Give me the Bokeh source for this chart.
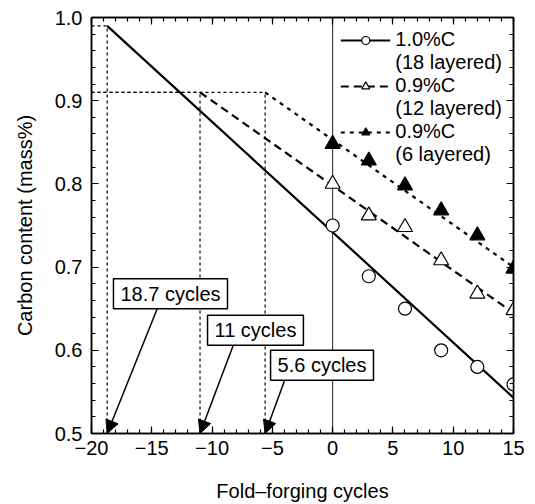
import numpy as np
from bokeh.plotting import figure
from bokeh.models import (Range1d, FixedTicker, LinearAxis, Legend, LegendItem,
                          Label, Arrow, NormalHead, Span, ColumnDataSource,
                          CustomLabelingPolicy)
from bokeh.embed import file_html
from bokeh.resources import INLINE

# ---------------- data ----------------
cycles = [0, 3, 6, 9, 12, 15]
c10_18 = [0.750, 0.689, 0.650, 0.600, 0.580, 0.559]   # 1.0%C (18 layered)
c09_12 = [0.800, 0.762, 0.748, 0.708, 0.668, 0.648]   # 0.9%C (12 layered)
c09_6 = [0.848, 0.828, 0.798, 0.768, 0.738, 0.698]    # 0.9%C (6 layered)

# fitted / extrapolated lines
fit10_x = [-18.7, 15]
fit10_y = [0.990, 0.543]
fit12_x = [-11.0, 15]
fit12_y = [0.910, 0.645]
fit6_x = [-5.6, 15]
fit6_y = [0.910, 0.700]

# extrapolated starting cycles and carbon levels
extrap_cycles = [-18.7, -11.0, -5.6]
extrap_levels = [0.99, 0.91, 0.91]
extrap_labels = ["18.7 cycles", "11 cycles", "5.6 cycles"]

series_labels = ["1.0%C", "(18 layered)", "0.9%C", "(12 layered)", "0.9%C", "(6 layered)"]

x_ticks = [-20, -15, -10, -5, 0, 5, 10, 15]
x_tick_labels = ["\u221220", "\u221215", "\u221210", "\u22125", "0", "5", "10", "15"]
y_ticks = [0.5, 0.6, 0.7, 0.8, 0.9, 1.0]
y_tick_labels = ["0.5", "0.6", "0.7", "0.8", "0.9", "1.0"]

x_label = "Fold\u2013forging cycles"
y_label = "Carbon content (mass%)"

# annotation layout (box centres and arrow tails)
box_x = [-13.45, -6.40, -0.88]
box_y = [0.668, 0.624, 0.582]
arrow_tail_x = [-14.55, -8.22, -4.0]
arrow_tail_y = [0.650, 0.607, 0.563]

FONT = "Liberation Sans"

p = figure(width=535, height=504, x_range=Range1d(-20, 15), y_range=Range1d(0.5, 1.0),
           output_backend="svg", toolbar_location=None,
           min_border_left=91, min_border_right=22, min_border_top=17, min_border_bottom=71)
p.background_fill_color = "white"
p.border_fill_color = "white"
p.xgrid.visible = False
p.ygrid.visible = False
p.outline_line_color = "black"
p.outline_line_width = 1.5
p.outline_line_alpha = 1.0

x_minor = list(np.arange(-20, 16, 1))
y_minor = [round(v, 2) for v in np.arange(0.5, 1.0001, 0.02)]


def style_axis(ax, ticks, minor, labels, show_labels=True):
    ax.ticker = FixedTicker(ticks=ticks, minor_ticks=minor)
    ax.major_tick_in = 7
    ax.major_tick_out = 0
    ax.minor_tick_in = 4
    ax.minor_tick_out = 0
    ax.axis_line_color = "black"
    ax.axis_line_width = 1.5
    ax.major_tick_line_color = "black"
    ax.minor_tick_line_color = "black"
    ax.major_tick_line_width = 1.2
    ax.minor_tick_line_width = 1.2
    if show_labels:
        ax.major_label_overrides = {t: l for t, l in zip(ticks, labels)}
        ax.major_label_text_font = FONT
        ax.major_label_text_font_size = "20px"
        ax.major_label_text_color = "black"
        ax.axis_label_text_font = FONT
        ax.axis_label_text_font_size = "20px"
        ax.axis_label_text_font_style = "normal"
        ax.axis_label_text_color = "black"
    else:
        ax.major_label_policy = CustomLabelingPolicy(
            code="for (const i of indices) { indices.unset(i) } ; return indices")
        ax.major_label_text_font_size = "1px"
        ax.major_label_standoff = 0


xa = p.xaxis[0]
ya = p.yaxis[0]
style_axis(xa, x_ticks, x_minor, x_tick_labels)
style_axis(ya, y_ticks, y_minor, y_tick_labels)
xa.axis_label = x_label
ya.axis_label = y_label
xa.major_label_standoff = 7
xa.axis_label_standoff = 22
ya.major_label_standoff = 9
ya.axis_label_standoff = 16

top_ax = LinearAxis()
style_axis(top_ax, x_ticks, x_minor, x_tick_labels, show_labels=False)
p.add_layout(top_ax, "above")
right_ax = LinearAxis()
style_axis(right_ax, y_ticks, y_minor, y_tick_labels, show_labels=False)
p.add_layout(right_ax, "right")

# vertical line at 0 cycles
p.add_layout(Span(location=0, dimension="height", line_color="#222222", line_width=1, level="underlay"))

# dotted guide lines
guides = ColumnDataSource(dict(
    x=extrap_cycles,
    y0=[0.5] * len(extrap_cycles),
    y=extrap_levels,
    xl=[-20] * len(extrap_cycles),
))
p.segment(x0="x", y0="y0", x1="x", y1="y", source=guides,
          line_color="black", line_width=1.2, line_dash="3 3")
p.segment(x0="xl", y0="y", x1="x", y1="y", source=guides,
          line_color="black", line_width=1.2, line_dash="3 3")

# fitted lines
r_fit10 = p.line(fit10_x, fit10_y, line_color="black", line_width=2.2)
r_fit12 = p.line(fit12_x, fit12_y, line_color="black", line_width=2.2, line_dash="8 5")
r_fit6 = p.line(fit6_x, fit6_y, line_color="black", line_width=2.2, line_dash="4 5")

# data points
r_p10 = p.scatter(cycles, c10_18, marker="circle", size=13, fill_color="white",
                  line_color="black", line_width=1.2)
r_p12 = p.scatter(cycles, c09_12, marker="triangle", size=15, fill_color="white",
                  line_color="black", line_width=1.2)
r_p6 = p.scatter(cycles, c09_6, marker="triangle", size=15, fill_color="black",
                 line_color="black", line_width=1.2)

dummy = p.scatter([], [], marker="circle", size=1, alpha=0)

legend = Legend(items=[
    LegendItem(label=series_labels[0], renderers=[r_fit10, r_p10]),
    LegendItem(label=series_labels[1], renderers=[dummy]),
    LegendItem(label=series_labels[2], renderers=[r_fit12, r_p12]),
    LegendItem(label=series_labels[3], renderers=[dummy]),
    LegendItem(label=series_labels[4], renderers=[r_fit6, r_p6]),
    LegendItem(label=series_labels[5], renderers=[dummy]),
], location="top_right")
legend.label_text_font = FONT
legend.label_text_font_size = "20px"
legend.label_text_color = "black"
legend.glyph_width = 50
legend.glyph_height = 20
legend.label_height = 20
legend.label_standoff = 5
legend.spacing = 0
legend.padding = 1
legend.margin = 10
legend.border_line_alpha = 0
legend.background_fill_alpha = 0
p.add_layout(legend)

# arrows
arrow_src = ColumnDataSource(dict(x0=arrow_tail_x, y0=arrow_tail_y,
                                  x1=extrap_cycles, y1=[0.5] * len(extrap_cycles)))
p.add_layout(Arrow(end=NormalHead(size=13, fill_color="black", line_color="black", line_width=1),
                   x_start="x0", y_start="y0", x_end="x1", y_end="y1", source=arrow_src,
                   line_color="black", line_width=1.5))

# annotation boxes
for bx, by, txt in zip(box_x, box_y, extrap_labels):
    p.add_layout(Label(x=bx, y=by, text=txt, text_align="center", text_baseline="middle",
                       text_font=FONT, text_font_size="20px", text_color="black",
                       background_fill_color="white", background_fill_alpha=1.0,
                       border_line_color="black", border_line_width=1.5,
                       padding=(7, 4)))

open("out.html", "w").write(file_html(p, INLINE))
